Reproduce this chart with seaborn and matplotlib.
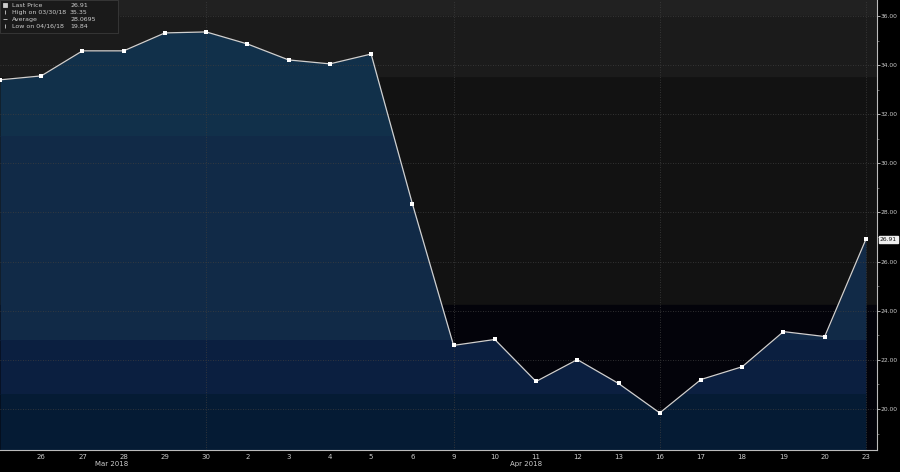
import numpy as np
import pandas as pd
import matplotlib
matplotlib.use('Agg')
import matplotlib.pyplot as plt
import matplotlib.transforms as mtransforms
from matplotlib.patches import Rectangle
import seaborn as sns

# datos
fechas = ['23', '26', '27', '28', '29', '30', '2', '3', '4', '5', '6',
          '9', '10', '11', '12', '13', '16', '17', '18', '19', '20', '23']
precios = [33.40, 33.56, 34.58, 34.58, 35.31, 35.35, 34.86, 34.21, 34.05, 34.45, 28.36,
           22.59, 22.83, 21.12, 22.01, 21.04, 19.84, 21.20, 21.72, 23.15, 22.95, 26.91]
leyenda_txt = ['Last Price', 'High on 03/30/18', 'Average', 'Low on 04/16/18']
leyenda_val = ['26.91', '35.35', '28.0695', '19.84']
meses = ['Mar 2018', 'Apr 2018']

df = pd.DataFrame({'i': np.arange(len(precios)), 'precio': precios})

fig = plt.figure(figsize=(9, 4.72), dpi=100, facecolor='black')
ax = fig.add_axes([0.0, 0.0466, 0.9745, 0.9534])
ax.set_facecolor('#121212')
ymin, ymax = 18.33, 36.65
xmax = 21.27
ax.set_xlim(0, xmax)
ax.set_ylim(ymin, ymax)

# bandas de fondo
ax.axhspan(36.0, ymax, color='#212121', zorder=0)
ax.axhspan(33.56, 36.0, color='#1b1b1b', zorder=0)
ax.axhspan(ymin, 24.25, color='#03030a', zorder=0)

# area bajo la curva con bandas de color
bandas = [(31.1, ymax, '#11304a'), (22.8, 31.1, '#112a47'),
          (20.6, 22.8, '#0b1f40'), (ymin, 20.6, '#051b34')]
for a, b, c in bandas:
    poly = ax.fill_between(df['i'], df['precio'], ymin, color=c, lw=0, zorder=1)
    rect = Rectangle((0, a), xmax, b - a, transform=ax.transData)
    poly.set_clip_path(rect)

# rejilla
for v in range(20, 37, 2):
    ax.axhline(v, color='#3e3e3e', lw=0.6, ls=(0, (1, 2)), zorder=2)
for v in [5, 11, 16, 21]:
    ax.axvline(v, color='#3e3e3e', lw=0.6, ls=(0, (1, 2)), zorder=2)

sns.lineplot(data=df, x='i', y='precio', ax=ax, color='#d0d0d0', lw=0.9,
             marker='s', markersize=2.4, markeredgewidth=0,
             markerfacecolor='white', zorder=3)

# ejes
for s in ['top', 'left']:
    ax.spines[s].set_visible(False)
ax.spines['right'].set_color('#bbbbbb')
ax.spines['bottom'].set_color('#bbbbbb')
ax.spines['right'].set_linewidth(0.8)
ax.spines['bottom'].set_linewidth(0.8)
ax.yaxis.tick_right()
ax.set_yticks(np.arange(20, 37, 2))
ax.set_yticklabels(['%.2f' % v for v in np.arange(20, 37, 2)])
ax.set_yticks(np.arange(19, 37, 1), minor=True)
ax.set_xticks(df['i'][1:])
ax.set_xticklabels(fechas[1:])
ax.tick_params(axis='y', which='major', colors='#cccccc', labelsize=4.3, length=2, width=0.6, pad=0.5)
ax.tick_params(axis='y', which='minor', colors='#888888', length=1.5, width=0.5)
ax.tick_params(axis='x', colors='#cccccc', labelsize=5, length=0, pad=3)
ax.set_xlabel('')
ax.set_ylabel('')

trans = mtransforms.blended_transform_factory(ax.transData, fig.transFigure)
ax.text(2.7, 0.013, meses[0], transform=trans, color='#cccccc', fontsize=5, ha='center')
ax.text(12.75, 0.013, meses[1], transform=trans, color='#cccccc', fontsize=5, ha='center')

# etiqueta ultimo precio
ax.text(1.003, precios[-1], leyenda_val[0], transform=ax.get_yaxis_transform(),
        fontsize=4.3, color='#111111', va='center', ha='left',
        bbox=dict(boxstyle='square,pad=0.15', fc='#eeeeee', ec='#eeeeee'))

# leyenda
ax.add_patch(Rectangle((0, 1 - 33 / 450), 118 / 877, 33 / 450, transform=ax.transAxes,
                       fc='#1a1a1a', ec='#3a3a3a', lw=0.6, zorder=4))
simbolos = ['s', '|', '_', '|']
for k in range(4):
    yy = 1 - (5 + 7 * k) / 450
    ax.plot([5 / 877], [yy], marker=simbolos[k], ms=2.5, color='#cccccc',
            transform=ax.transAxes, zorder=5, mew=0.6)
    ax.text(12 / 877, yy, leyenda_txt[k], transform=ax.transAxes, fontsize=4.5,
            color='#cccccc', va='center', zorder=5)
    ax.text(70 / 877, yy, leyenda_val[k], transform=ax.transAxes, fontsize=4.5,
            color='#cccccc', va='center', zorder=5)

plt.savefig('out.png', dpi=100, facecolor='black')
